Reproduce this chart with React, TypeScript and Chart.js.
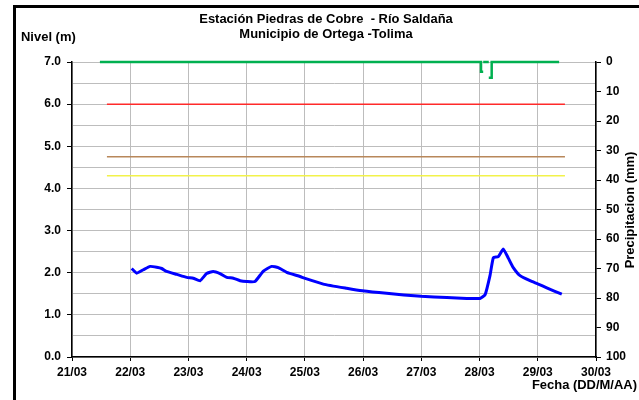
import React, { useEffect, useRef } from "react";
import { Chart, registerables } from "chart.js";

Chart.register(...registerables);

// Hours since 21/03 00:00
const levelHours = [24.6, 26.7, 29.4, 32.2, 34.9, 37.0, 39.0, 43.2, 47.3, 50.0, 52.8, 55.5, 58.2, 61.0, 63.8, 66.5, 69.3, 72.0, 75.4, 78.9, 82.3, 85.0, 88.5, 94.0, 95.8, 103.6, 113.2, 119.7, 129.7, 143.9, 154.5, 162.7, 168.2, 170.3, 172.3, 173.7, 175.7, 177.8, 179.9, 181.9, 184.7, 188.8, 192.2, 195.7, 201.9];
const levels = [2.10, 1.99, 2.07, 2.15, 2.13, 2.10, 2.03, 1.96, 1.89, 1.87, 1.81, 1.98, 2.03, 1.98, 1.89, 1.87, 1.81, 1.79, 1.79, 2.04, 2.15, 2.12, 2.01, 1.91, 1.87, 1.73, 1.63, 1.57, 1.51, 1.44, 1.41, 1.39, 1.39, 1.48, 1.93, 2.36, 2.38, 2.56, 2.34, 2.12, 1.93, 1.81, 1.73, 1.64, 1.49];

const precipHours = [11.5, 168.6, 168.6, 169.5, 169.5, 169.5, 171.8, 171.8, 171.8, 173.0, 173.0, 200.8];
const precip: (number | null)[] = [0, 0, 3.3, 3.3, null, 0, 0, null, 5.3, 5.3, 0, 0];

const thresholdStart = 14.4;
const thresholdEnd = 203.2;
const thresholdRed = 6.0;
const thresholdBrown = 4.75;
const thresholdYellow = 4.3;

const dayLabels = ["21/03", "22/03", "23/03", "24/03", "25/03", "26/03", "27/03", "28/03", "29/03", "30/03"];

const titleLines = ["Estación Piedras de Cobre  - Río Saldaña", "Municipio de Ortega -Tolima"];
const leftTitle = "Nivel (m)";
const rightTitle = "Precipitacion (mm)";
const xTitle = "Fecha (DD/M/AA)";

const FONT = "'Liberation Sans', Arial, sans-serif";

export default function App() {
  const ref = useRef<HTMLCanvasElement>(null);
  useEffect(() => {
    const canvas = ref.current!;
    const stretched = (ctx: CanvasRenderingContext2D, text: string, x: number, y: number, align: CanvasTextAlign, rot = 0) => {
      ctx.save();
      ctx.translate(x, y);
      if (rot) ctx.rotate(rot);
      ctx.scale(1.08, 1);
      ctx.textAlign = align;
      ctx.fillText(text, 0, 0);
      ctx.restore();
    };
    const textPlugin = {
      id: "texts",
      beforeDraw(chart: any) {
        const ctx = chart.ctx;
        ctx.save();
        ctx.fillStyle = "#fff";
        ctx.fillRect(0, 0, chart.width, chart.height);
        ctx.fillStyle = "#000";
        ctx.fillRect(13, 5, 3, chart.height);
        ctx.fillRect(13, 5, chart.width, 3);
        ctx.restore();
      },
      afterDraw(chart: any) {
        const ctx = chart.ctx;
        ctx.save();
        ctx.fillStyle = "#000";
        ctx.font = `bold 12px ${FONT}`;
        ctx.textBaseline = "middle";
        stretched(ctx, titleLines[0], 326, 20, "center");
        stretched(ctx, titleLines[1], 326, 35, "center");
        stretched(ctx, leftTitle, 21, 38, "left");
        stretched(ctx, xTitle, 637, 386, "right");
        stretched(ctx, rightTitle, 631, 210, "center", -Math.PI / 2);
        ctx.restore();
      },
    };
    const thr = (v: number) => [
      { x: thresholdStart, y: v },
      { x: thresholdEnd, y: v },
    ];
    const chart = new Chart(canvas, {
      type: "line",
      data: {
        datasets: [
          { label: "rojo", data: thr(thresholdRed), borderColor: "#ff2a2a", borderWidth: 1.5, pointRadius: 0, yAxisID: "y" },
          { label: "naranja", data: thr(thresholdBrown), borderColor: "#b8875a", borderWidth: 1.5, pointRadius: 0, yAxisID: "y" },
          { label: "amarillo", data: thr(thresholdYellow), borderColor: "#f2f24a", borderWidth: 1.5, pointRadius: 0, yAxisID: "y" },
          {
            label: "Precipitación",
            data: precipHours.map((h, i) => ({ x: h, y: precip[i] })),
            borderColor: "#00b050",
            borderWidth: 2.5,
            pointRadius: 0,
            spanGaps: false,
            clip: false,
            yAxisID: "y1",
          },
          {
            label: "Nivel",
            data: levelHours.map((h, i) => ({ x: h, y: levels[i] })),
            borderColor: "#0000ff",
            borderWidth: 3,
            pointRadius: 0,
            tension: 0.15,
            yAxisID: "y",
          },
        ],
      },
      options: {
        responsive: false,
        animation: false,
        layout: { padding: { top: 62, left: 0, right: 0, bottom: 0 } },
        plugins: { legend: { display: false }, tooltip: { enabled: false } },
        scales: {
          x: {
            type: "linear",
            min: 0,
            max: 216,
            afterFit: (s: any) => { s.height = 43; },
            ticks: {
              stepSize: 24,
              autoSkip: false,
              maxRotation: 0,
              padding: 4,
              color: "#000",
              font: { family: FONT, size: 12, weight: "bold" },
              callback: (v: any) => dayLabels[Math.round(Number(v) / 24)] ?? "",
            },
            grid: { color: "#bdbdbd", tickColor: "#000", tickLength: 4, lineWidth: 1 },
            border: { color: "#000", width: 1.5 },
          },
          y: {
            position: "left",
            min: 0,
            max: 7,
            afterFit: (s: any) => { s.width = 72; },
            ticks: {
              stepSize: 0.5,
              autoSkip: false,
              padding: 6,
              color: "#000",
              font: { family: FONT, size: 12, weight: "bold" },
              callback: (v: any) => (Math.abs(Number(v) % 1) < 1e-6 ? Number(v).toFixed(1) : ""),
            },
            grid: {
              color: "#bdbdbd",
              lineWidth: 1,
              tickLength: 5,
              tickColor: (c: any) => (c.tick && Math.abs(c.tick.value % 1) < 1e-6 ? "#000" : "rgba(0,0,0,0)"),
            },
            border: { color: "#000", width: 1.5 },
          },
          y1: {
            position: "right",
            min: 0,
            max: 100,
            reverse: true,
            afterFit: (s: any) => { s.width = 43; },
            ticks: {
              stepSize: 10,
              autoSkip: false,
              padding: 5,
              color: "#000",
              font: { family: FONT, size: 12, weight: "bold" },
            },
            grid: { drawOnChartArea: false, tickColor: "#000", tickLength: 5 },
            border: { color: "#000", width: 1.5 },
          },
        },
      },
      plugins: [textPlugin],
    } as any);
    return () => chart.destroy();
  }, []);
  return (
    <div style={{ position: "absolute", left: 0, top: 0, width: 639, height: 400 }}>
      <canvas ref={ref} width={639} height={400} style={{ display: "block", width: 639, height: 400 }} />
    </div>
  );
}
